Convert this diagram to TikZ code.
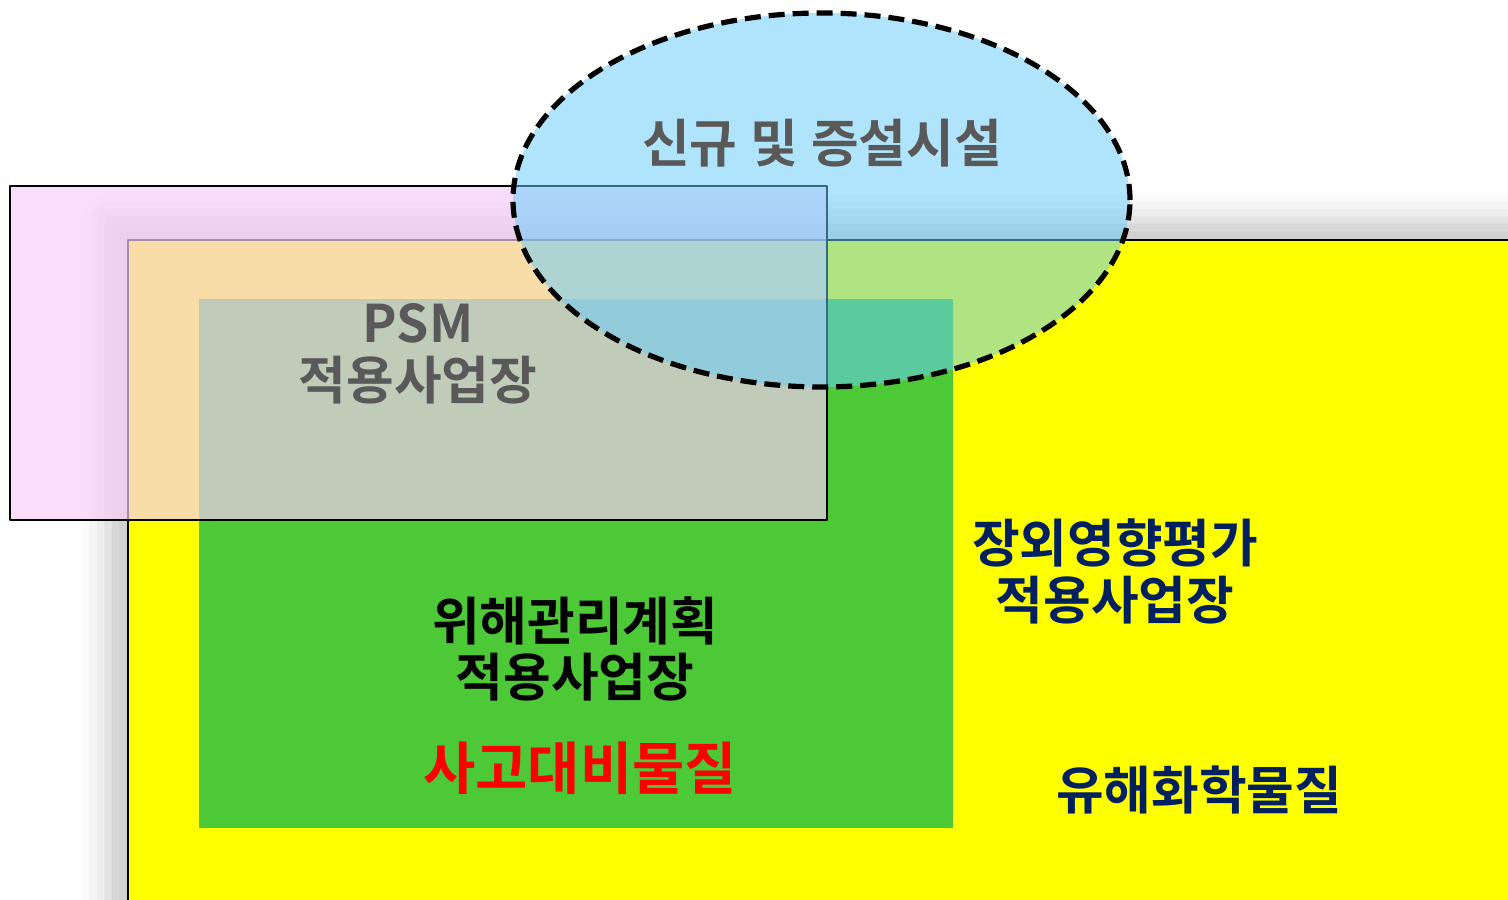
\documentclass[tikz,border=0pt]{standalone}
\usepackage{fontspec}
\setmainfont{Noto Sans CJK KR}[BoldFont={Noto Sans CJK KR Bold}]
\usetikzlibrary{shapes.geometric,shadows.blur}
\definecolor{chemyellow}{RGB}{255,255,0}
\definecolor{rmpgreen}{RGB}{77,200,55}
\definecolor{psmpink}{RGB}{247,205,248}
\definecolor{newblue}{RGB}{104,204,250}
\definecolor{labelgrey}{RGB}{89,89,89}
\definecolor{labelnavy}{RGB}{0,32,96}
\begin{document}
\begin{tikzpicture}[line join=bevel,
  area/.style={inner sep=0pt,outer sep=0pt},
  labeltext/.style={font=\bfseries\fontsize{26}{28.5}\selectfont,align=center,inner sep=0pt}]
%%
\path [use as bounding box,clip] (0bp,0bp) rectangle (754bp,450bp);
\node (node_chem) at (422bp,150bp) [area,draw=black,line width=1.2bp,fill=chemyellow,minimum width=716bp,minimum height=360bp,
  blur shadow={shadow xshift=-10bp,shadow yshift=10bp,shadow blur radius=13bp,shadow opacity=22}] {};
  \node (node_rmp) at (288bp,168.25bp) [area,fill=rmpgreen,minimum width=377bp,minimum height=264.5bp] {};
  \node (node_psm) at (209.25bp,273.5bp) [area,draw=black,line width=1bp,fill=psmpink,fill opacity=0.68,minimum width=408.5bp,minimum height=167bp] {};
  \node (node_new) at (410.75bp,350bp) [area,ellipse,draw=black,line width=2.6bp,dash pattern=on 8bp off 4bp,fill=newblue,fill opacity=0.52,minimum width=308.5bp,minimum height=187bp] {};
%
\node (text_new) at (411bp,378.5bp) [labeltext,text=labelgrey] {신규\hspace{0.25em}및\hspace{0.25em}증설시설};
  \node (text_psm) at (209bp,273bp) [labeltext,text=labelgrey] {PSM\\적용사업장};
  \node (text_rmp) at (287.5bp,125.5bp) [labeltext,text=black] {위해관리계획\\적용사업장};
  \node (text_accident) at (290bp,66bp) [labeltext,text=red,font=\bfseries\fontsize{28.5}{30}\selectfont] {사고대비물질};
  \node (text_offsite) at (557.5bp,164.25bp) [labeltext,text=labelnavy] {장외영향평가\\적용사업장};
  \node (text_chem) at (599.5bp,55bp) [labeltext,text=labelnavy] {유해화학물질};
%
\end{tikzpicture}
\end{document}
